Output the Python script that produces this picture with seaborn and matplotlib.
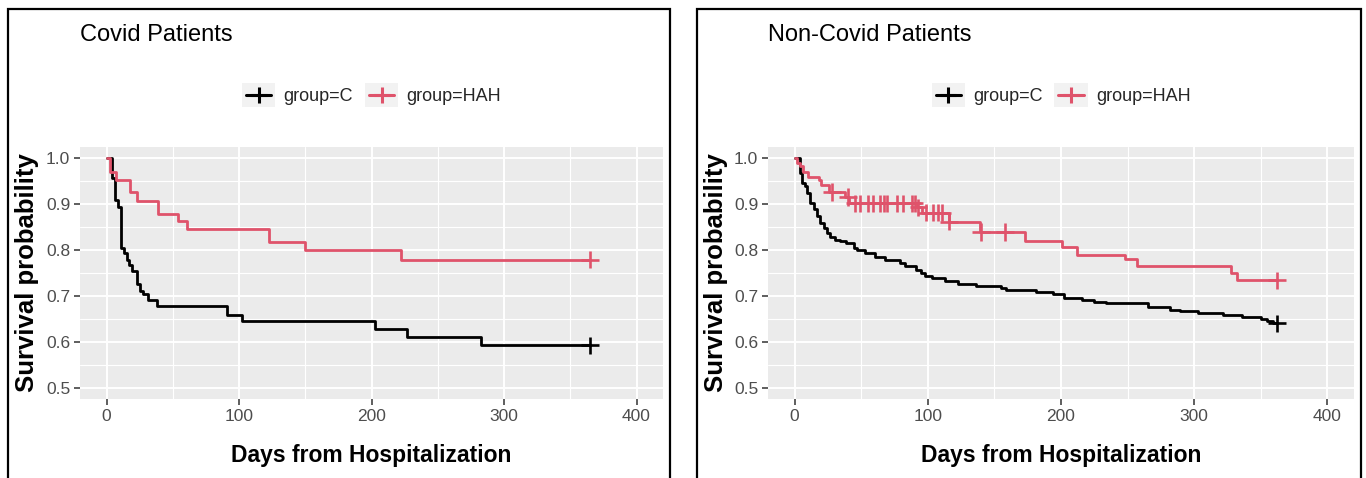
import matplotlib
matplotlib.use("Agg")
import numpy as np
import pandas as pd
import seaborn as sns
import matplotlib.pyplot as plt
from matplotlib.legend_handler import HandlerBase
from matplotlib.patches import Rectangle
from matplotlib.lines import Line2D

# ---------------- data ----------------
covid_c_days = [0, 3.8, 6.3, 8.8, 10.8, 13.4, 15.1, 16.9, 18.9, 22.7, 25.2, 27.7, 31.5, 38.3,
                91, 102, 203, 227, 283, 365]
covid_c_surv = [1.0, 0.957, 0.909, 0.894, 0.804, 0.794, 0.779, 0.768, 0.754, 0.725, 0.711, 0.704,
                0.691, 0.677, 0.659, 0.646, 0.628, 0.611, 0.592, 0.592]
covid_c_censor = [365]

covid_h_days = [0, 2.5, 7.5, 17.5, 23, 39, 54, 61, 123, 150, 222, 365]
covid_h_surv = [1.0, 0.970, 0.954, 0.927, 0.907, 0.878, 0.863, 0.846, 0.817, 0.801, 0.779, 0.779]
covid_h_censor = [365]

noncovid_c_days = [0, 4.3, 5.5, 8, 9.3, 11.8, 14.3, 16.8, 19.3, 21.8, 24.3, 26.9, 30.6, 34.4,
                   38.2, 44.4, 47, 53, 60, 68, 79, 83, 91, 95, 98, 103, 113, 123, 136, 155, 159,
                   181, 194, 202, 216, 225, 234, 265, 282, 289, 303, 322, 336, 350, 355, 359, 362]
noncovid_c_surv = [1.0, 0.969, 0.947, 0.940, 0.925, 0.903, 0.889, 0.874, 0.860, 0.849, 0.838,
                   0.829, 0.823, 0.819, 0.816, 0.805, 0.800, 0.794, 0.786, 0.779, 0.772, 0.765,
                   0.757, 0.750, 0.743, 0.740, 0.732, 0.725, 0.721, 0.718, 0.712, 0.709, 0.705,
                   0.695, 0.691, 0.687, 0.684, 0.675, 0.670, 0.666, 0.663, 0.659, 0.653, 0.650,
                   0.645, 0.640, 0.640]
noncovid_c_censor = [362]

noncovid_h_days = [0, 2, 4, 6, 10, 18, 20, 26, 38, 41, 92, 96, 116, 139, 173, 201, 212, 248,
                   257, 328, 332, 362]
noncovid_h_surv = [1.0, 0.990, 0.984, 0.970, 0.959, 0.952, 0.941, 0.927, 0.916, 0.902, 0.893,
                   0.882, 0.862, 0.840, 0.820, 0.806, 0.790, 0.781, 0.765, 0.750, 0.734, 0.734]
noncovid_h_censor = [28, 40, 45, 49, 55, 59, 64, 67, 69, 77, 81, 88, 90, 93, 99, 104, 108, 111,
                     116, 140, 158, 362]

groups = ["C", "HAH"]
legend_labels = ["group=C", "group=HAH"]
titles = ["Covid Patients", "Non-Covid Patients"]
x_ticks = [0, 100, 200, 300, 400]
y_ticks = [0.5, 0.6, 0.7, 0.8, 0.9, 1.0]

PALETTE = {"C": "#000000", "HAH": "#DF536B"}

# ---------------- style ----------------
sns.set_theme(style="darkgrid")
plt.rcParams["font.family"] = ["Liberation Sans", "DejaVu Sans"]


def curve_df(days, surv, group):
    return pd.DataFrame({"days": days, "surv": surv, "group": group})


def censor_df(cdays, days, surv, group):
    idx = np.searchsorted(np.asarray(days), np.asarray(cdays), side="right") - 1
    return pd.DataFrame({"days": cdays, "surv": np.asarray(surv)[idx], "group": group})


panels = [
    (pd.concat([curve_df(covid_c_days, covid_c_surv, "C"),
                curve_df(covid_h_days, covid_h_surv, "HAH")]),
     pd.concat([censor_df(covid_c_censor, covid_c_days, covid_c_surv, "C"),
                censor_df(covid_h_censor, covid_h_days, covid_h_surv, "HAH")])),
    (pd.concat([curve_df(noncovid_c_days, noncovid_c_surv, "C"),
                curve_df(noncovid_h_days, noncovid_h_surv, "HAH")]),
     pd.concat([censor_df(noncovid_c_censor, noncovid_c_days, noncovid_c_surv, "C"),
                censor_df(noncovid_h_censor, noncovid_h_days, noncovid_h_surv, "HAH")])),
]


class KeyHandler(HandlerBase):
    def create_artists(self, legend, orig_handle, xdescent, ydescent, width, height,
                       fontsize, trans):
        col = orig_handle.get_color()
        bg = Rectangle((-xdescent, -ydescent), width, height, facecolor="#F2F2F2",
                       edgecolor="none", transform=trans)
        cy = -ydescent + height / 2
        ln = Line2D([-xdescent + 0.12 * width, -xdescent + 0.88 * width], [cy, cy],
                    color=col, lw=2.2, transform=trans)
        mk = Line2D([-xdescent + width / 2], [cy], marker="+", markersize=11,
                    markeredgewidth=2.2, color=col, linestyle="none", transform=trans)
        return [bg, ln, mk]


W, H = 1366, 478
fig = plt.figure(figsize=(W / 100, H / 100), dpi=100)

axes_px = [(80, 147, 663, 399), (768, 147, 1354, 399)]
frames_px = [(8, 9, 670), (697, 9, 1361)]
title_px = [(80, 35), (768, 35)]
ylabel_right_px = [39, 728]
xlabel_top_px = 444
legend_center_px = 95

for i, ((curves, cens), (x0, y0, x1, y1)) in enumerate(zip(panels, axes_px)):
    ax = fig.add_axes([x0 / W, 1 - y1 / H, (x1 - x0) / W, (y1 - y0) / H])
    ax.set_facecolor("#EBEBEB")
    sns.lineplot(data=curves, x="days", y="surv", hue="group", palette=PALETTE,
                 estimator=None, sort=False, drawstyle="steps-post", linewidth=2.0,
                 legend=False, ax=ax, zorder=3)
    sns.scatterplot(data=cens, x="days", y="surv", hue="group", palette=PALETTE,
                    marker="+", s=160, linewidth=1.9, legend=False, ax=ax, zorder=4)
    ax.set_xlim(-20, 420)
    ax.set_ylim(0.475, 1.025)
    ax.set_xticks(x_ticks)
    ax.set_xticks([50, 150, 250, 350], minor=True)
    ax.set_yticks(y_ticks)
    ax.set_yticks([0.55, 0.65, 0.75, 0.85, 0.95], minor=True)
    ax.set_yticklabels([f"{v:.1f}" for v in y_ticks])
    ax.grid(which="major", color="white", linewidth=1.4)
    ax.grid(which="minor", color="white", linewidth=0.8)
    for s in ax.spines.values():
        s.set_visible(False)
    ax.tick_params(which="major", direction="out", length=4, width=1.1, color="#333333",
                   labelcolor="#4D4D4D", labelsize=12.5, pad=3, bottom=True, left=True)
    ax.tick_params(which="minor", length=0)
    ax.set_xlabel("Days from Hospitalization", fontsize=16.5, fontweight="bold",
                  color="black")
    ax.set_ylabel("Survival probability", fontsize=18.5, fontweight="bold",
                  color="black")
    ax.xaxis.set_label_coords(0.5, (y1 - xlabel_top_px) / (y1 - y0))
    ax.yaxis.set_label_coords((ylabel_right_px[i] - x0) / (x1 - x0), 0.5)
    handles = [Line2D([], [], color=PALETTE[g]) for g in groups]
    ax.legend(handles, legend_labels, loc="center",
              bbox_to_anchor=(0.5, (y1 - legend_center_px) / (y1 - y0)),
              ncol=2, frameon=False, fontsize=13, handler_map={Line2D: KeyHandler()},
              handlelength=1.85, handleheight=1.75, handletextpad=0.45,
              columnspacing=0.65, borderaxespad=0, borderpad=0)
    tx, ty = title_px[i]
    fig.text(tx / W, 1 - ty / H, titles[i], fontsize=17, ha="left", va="center",
             color="black")
    fx0, fy0, fx1 = frames_px[i]
    fig.add_artist(Rectangle((fx0 / W, -0.05), (fx1 - fx0) / W, 1.05 - fy0 / H,
                             transform=fig.transFigure, fill=False, edgecolor="black",
                             linewidth=1.6, clip_on=False))

fig.savefig("out.png", dpi=100)
